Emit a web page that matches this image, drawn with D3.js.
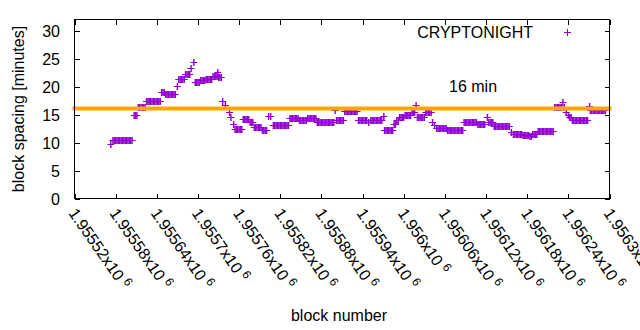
<!DOCTYPE html>
<html><head><meta charset="utf-8">
<script src="https://cdn.jsdelivr.net/npm/d3@7"></script>
<style>
html,body{margin:0;padding:0;background:#fff;}
svg{display:block;}
text{font-family:"Liberation Sans",Arial,sans-serif;font-size:16px;fill:#000;}
</style>
</head><body>
<svg id="c" width="640" height="330"></svg>
<script>
// ---- data ----
const seriesName = "CRYPTONIGHT";
const xTicks = [1955520,1955580,1955640,1955700,1955760,1955820,1955880,1955940,1956000,1956060,1956120,1956180,1956240,1956300];
const yTicks = [0,5,10,15,20,25,30];
const targetMinutes = 16;
const targetLabel = "16 min";
const xTitle = "block number";
const yTitle = "block spacing [minutes]";

const blocks = [
1955573,
1955576,1955578,1955580,1955582,1955584,1955586,1955588,1955590,1955592,1955594,1955596,1955598,1955600,1955602,1955604,
1955607,1955609,1955611,
1955613,1955615,1955617,1955619,1955621,1955623,
1955625,1955627,1955629,1955631,1955633,1955635,1955637,1955639,1955641,1955643,1955645,
1955647,1955649,1955651,
1955653,1955655,1955657,1955659,1955661,1955663,1955665,1955667,
1955670,
1955672,1955674,1955676,1955678,1955680,
1955682,1955684,1955686,1955688,
1955690,1955694,
1955696,1955698,1955700,1955702,
1955704,1955706,1955708,1955710,
1955712,1955714,1955716,1955718,1955720,
1955722,1955724,1955726,1955728,
1955729,
1955730,1955732,1955734,
1955736,1955740,1955746,1955748,1955752,
1955754,1955756,1955758,1955760,1955762,1955764,
1955766,1955768,1955770,1955772,1955774,
1955776,1955778,1955780,
1955782,1955784,1955786,1955788,1955790,1955792,
1955794,1955796,1955798,1955800,
1955803,1955806,
1955810,1955812,1955814,1955816,1955818,1955820,1955822,1955824,1955826,1955828,1955830,1955832,
1955834,1955836,1955838,1955840,1955842,1955844,1955846,
1955848,1955850,1955852,1955854,1955856,1955858,
1955860,1955862,1955864,1955866,1955868,1955870,1955872,
1955874,1955876,1955878,1955880,1955882,1955884,1955886,1955888,1955890,1955892,1955894,1955896,1955898,
1955900,
1955902,1955904,1955906,1955908,1955910,1955912,
1955914,1955916,1955918,1955920,1955922,1955924,1955926,1955928,1955930,1955932,
1955934,1955936,1955938,1955940,1955942,1955944,1955946,
1955949,
1955952,1955954,1955956,1955958,1955960,1955962,1955964,1955966,1955968,
1955971,
1955972,1955974,1955976,1955978,1955980,1955982,1955984,
1955986,1955988,
1955990,1955992,
1955994,1955996,1955998,1956000,
1956002,1956004,1956006,1956008,1956010,
1956012,1956014,1956016,
1956018,
1956020,1956022,1956024,1956026,1956028,1956030,
1956032,1956034,1956036,1956038,1956040,
1956042,1956045,
1956048,1956050,1956052,1956054,1956056,1956058,1956060,1956062,
1956064,1956066,1956068,1956070,1956072,1956074,1956076,1956078,1956080,1956082,1956084,1956086,
1956088,1956090,1956092,1956094,1956096,1956098,1956100,1956102,1956104,1956106,
1956108,1956110,1956112,1956114,1956116,1956118,
1956122,
1956124,1956126,1956128,1956130,
1956132,1956134,1956136,1956138,1956140,1956142,1956144,1956146,1956148,1956150,1956152,1956154,
1956157,
1956160,1956162,1956164,1956166,1956168,1956170,1956172,
1956174,1956176,1956178,1956180,1956182,
1956184,1956186,
1956188,1956190,1956192,1956194,
1956196,1956198,1956200,1956202,1956204,1956206,1956208,1956210,1956212,1956214,1956216,1956218,
1956220,1956222,1956224,1956226,1956228,1956230,
1956232,1956234,1956237,1956240,
1956242,1956244,
1956246,1956248,1956250,1956252,1956254,1956256,1956258,1956260,1956262,1956264,1956266,1956268,
1956271,
1956272,1956274,1956276,1956278,1956280,1956282,1956284,1956286,1956288,1956290,1956292,1956294
];

const spacing = [
9.8,
10.4,10.4,10.4,10.4,10.4,10.4,10.4,10.4,10.4,10.4,10.4,10.4,10.4,10.4,10.4,
15.0,15.0,15.0,
16.3,16.3,16.3,16.3,16.3,16.3,
17.5,17.5,17.5,17.5,17.5,17.5,17.5,17.5,17.5,17.5,17.5,
19.0,19.0,19.0,
18.7,18.7,18.7,18.7,18.7,18.7,18.7,18.7,
20.2,
21.45,21.45,21.45,21.45,21.45,
22.3,22.3,22.3,22.3,
23.3,24.4,
20.85,20.85,20.85,20.85,
21.15,21.15,21.15,21.15,
21.45,21.45,21.45,21.45,21.45,
21.9,21.9,21.9,21.9,
22.7,
21.8,21.8,21.8,
17.5,16.8,15.4,14.6,13.4,
12.5,12.5,12.5,12.5,12.5,12.5,
14.3,14.3,14.3,14.3,14.3,
13.6,13.6,13.6,
12.8,12.8,12.8,12.8,12.8,12.8,
12.3,12.3,12.3,12.3,
14.7,14.7,
13.1,13.1,13.1,13.1,13.1,13.1,13.1,13.1,13.1,13.1,13.1,13.1,
14.4,14.4,14.4,14.4,14.4,14.4,14.4,
14.0,14.0,14.0,14.0,14.0,14.0,
14.45,14.45,14.45,14.45,14.45,14.45,14.45,
13.7,13.7,13.7,13.7,13.7,13.7,13.7,13.7,13.7,13.7,13.7,13.7,13.7,
15.9,
14.0,14.0,14.0,14.0,14.0,14.0,
15.6,15.6,15.6,15.6,15.6,15.6,15.6,15.6,15.6,15.6,
14.1,14.1,14.1,14.1,14.1,14.1,14.1,
13.6,
14.1,14.1,14.1,14.1,14.1,14.1,14.1,14.1,14.1,
14.8,
12.3,12.3,12.3,12.3,12.3,12.3,12.3,
13.4,13.4,
14.1,14.1,
14.6,14.6,14.6,14.6,
15.0,15.0,15.0,15.0,15.0,
15.5,15.5,15.5,
16.7,
14.6,14.6,14.6,14.6,14.6,14.6,
15.4,15.4,15.4,15.4,15.4,
13.7,13.2,
12.55,12.55,12.55,12.55,12.55,12.55,12.55,12.55,
12.2,12.2,12.2,12.2,12.2,12.2,12.2,12.2,12.2,12.2,12.2,12.2,
13.6,13.6,13.6,13.6,13.6,13.6,13.6,13.6,13.6,13.6,
13.3,13.3,13.3,13.3,13.3,13.3,
14.6,
13.75,13.75,13.75,13.75,
13.0,13.0,13.0,13.0,13.0,13.0,13.0,13.0,13.0,13.0,13.0,13.0,
11.8,
11.55,11.55,11.55,11.55,11.55,11.55,11.55,
11.3,11.3,11.3,11.3,11.3,
11.1,11.1,
11.55,11.55,11.55,11.55,
12.15,12.15,12.15,12.15,12.15,12.15,12.15,12.15,12.15,12.15,12.15,12.15,
16.4,16.4,16.4,16.4,16.4,16.4,
17.2,16.4,15.4,14.95,
14.6,14.6,
14.1,14.1,14.1,14.1,14.1,14.1,14.1,14.1,14.1,14.1,14.1,14.1,
16.5,
15.9,15.9,15.9,15.9,15.9,15.9,15.9,15.9,15.9,15.9,15.9,15.9
];

// ---- layout ----
const L = 74.5, R = 609.5, T = 19.5, B = 198.5;
const purple = "#9400d3", orange = "#ffa500";
const labelAngle = 55;

const svg = d3.select("#c");
const x = d3.scaleLinear().domain([xTicks[0], xTicks[xTicks.length-1]]).range([L, R]);
const y = d3.scaleLinear().domain([0, 32]).range([B, T]);

function styleAxis(g){
  g.select(".domain").remove();
  g.selectAll(".tick line").attr("stroke","#000").attr("stroke-width",1).attr("shape-rendering","crispEdges");
  g.selectAll("text").attr("fill","#000");
  g.attr("font-size",null).attr("font-family",null);
}

// data points (drawn first, under the reference line)
const n = Math.min(blocks.length, spacing.length);
const pts = d3.range(n).map(i => ({b: blocks[i], v: spacing[i]}));
const hs = 3.5;
const gp = svg.append("g").attr("class","points").attr("fill","none").attr("stroke",purple);
gp.append("g").attr("stroke-width",1).selectAll("path").data(pts).join("path")
  .attr("d", d => {
    const cx = x(d.b), cy = Math.round(y(d.v)) + 0.5;
    return `M${cx-hs},${cy}h${2*hs}`;
  });
gp.append("g").attr("stroke-width",1.45).selectAll("path").data(pts).join("path")
  .attr("d", d => {
    const cx = x(d.b), cy = Math.round(y(d.v)) + 0.5;
    return `M${cx},${cy-hs}v${2*hs}`;
  });

// reference line at 16 min
svg.append("line")
  .attr("x1", x(xTicks[0])).attr("x2", x(xTicks[xTicks.length-1]))
  .attr("y1", y(targetMinutes) - 0.5).attr("y2", y(targetMinutes) - 0.5)
  .attr("stroke", orange).attr("stroke-width", 4).attr("stroke-linecap","square");

svg.append("text").attr("x", 449).attr("y", 91.5).text(targetLabel);

// axes (ticks inward, mirrored)
svg.append("g").attr("transform",`translate(0,${B})`)
  .call(d3.axisBottom(x).tickValues(xTicks).tickSize(-5).tickFormat("")).call(styleAxis);
svg.append("g").attr("transform",`translate(0,${T})`)
  .call(d3.axisTop(x).tickValues(xTicks).tickSize(-5).tickFormat("")).call(styleAxis);
svg.append("g").attr("transform",`translate(${L},0)`)
  .call(d3.axisLeft(y).tickValues(yTicks).tickSize(-5).tickPadding(14.5).tickFormat(d3.format("d"))).call(styleAxis)
  .selectAll("text").attr("dy","0.35em");
svg.append("g").attr("transform",`translate(${R},0)`)
  .call(d3.axisRight(y).tickValues(yTicks).tickSize(-5).tickFormat("")).call(styleAxis);

// frame
svg.append("rect").attr("x",L).attr("y",T).attr("width",R-L).attr("height",B-T)
  .attr("fill","none").attr("stroke","#000").attr("stroke-width",1).attr("shape-rendering","crispEdges");

// rotated x tick labels
const mant = v => String(+((v/1e6).toFixed(6)));
const xl = svg.append("g").attr("class","xlabels");
xTicks.forEach(t => {
  const tx = xl.append("text")
    .attr("transform", `translate(${x(t) - 2},${210}) rotate(${labelAngle})`)
    .attr("dy","0.35em");
  tx.append("tspan").text(mant(t) + "x10");
  tx.append("tspan").attr("dx",4).attr("dy",-6).attr("font-size",12).text("6");
});

// axis titles
svg.append("text").attr("x",339).attr("y",321).attr("text-anchor","middle").text(xTitle);
svg.append("text").attr("transform",`translate(18,${(T+B)/2}) rotate(-90)`)
  .attr("text-anchor","middle").attr("dy","0.35em").text(yTitle);

// legend
svg.append("text").attr("x",533).attr("y",38).attr("text-anchor","end").text(seriesName);
svg.append("path").attr("d",`M${567.5-hs},32.5h${2*hs}M567.5,${32.5-hs}v${2*hs}`)
  .attr("stroke",purple).attr("stroke-width",1).attr("fill","none");
</script>
</body></html>
